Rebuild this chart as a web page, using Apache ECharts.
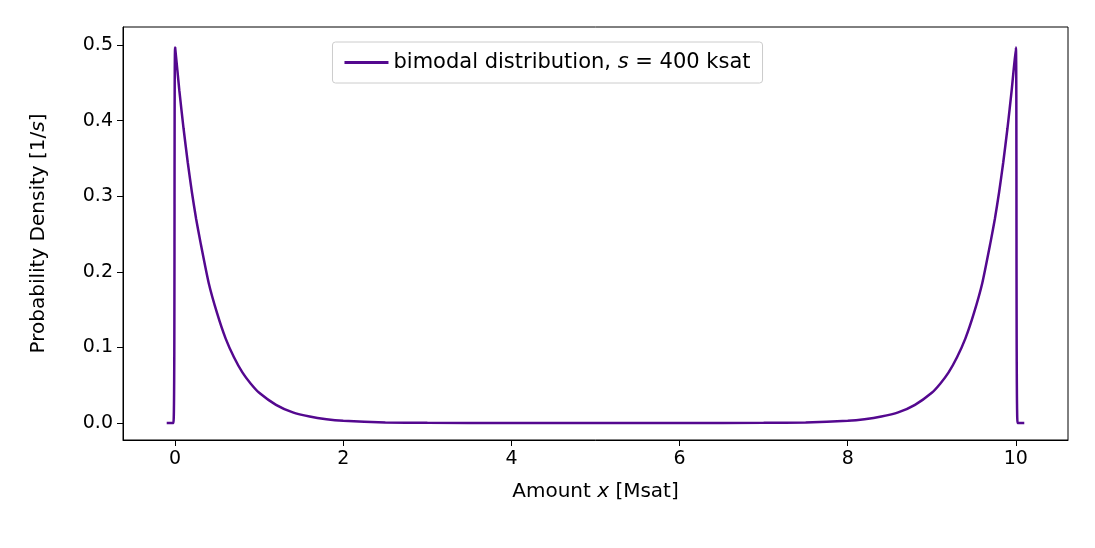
<!DOCTYPE html>
<html><head><meta charset="utf-8">
<script src="https://cdn.jsdelivr.net/npm/echarts@6/dist/echarts.min.js"></script>
<style>body{margin:0}#c{width:1095px;height:548px}</style></head>
<body><div id="c"></div>
<script>
// 数据
var xs = [-0.1,-0.02,0,0.05,0.1,0.15,0.2,0.25,0.3,0.4,0.5,0.6,0.7,0.8,0.9,1.0,1.2,1.4,1.6,1.8,2.0,2.5,3,4,5,6,7,7.5,8,8.2,8.4,8.6,8.8,9.0,9.1,9.2,9.3,9.4,9.5,9.6,9.7,9.75,9.8,9.85,9.9,9.95,10,10.02,10.1];
var ys = [0,0,0.497,0.44,0.39,0.345,0.305,0.27,0.24,0.185,0.145,0.112,0.087,0.067,0.052,0.040,0.024,0.014,0.0085,0.005,0.003,0.0008,0.0002,0,0,0,0.0002,0.0008,0.003,0.005,0.0085,0.014,0.024,0.040,0.052,0.067,0.087,0.112,0.145,0.185,0.24,0.27,0.305,0.345,0.39,0.44,0.497,0,0];
var xTicks = [0,2,4,6,8,10];
var yTicks = [0,0.1,0.2,0.3,0.4,0.5];

var pts = [];
for (var i = 0; i < xs.length; i++) pts.push([xs[i], ys[i]]);
var font = 'DejaVu Sans';
var chart = echarts.init(document.getElementById('c'));
chart.setOption({
	animation:false,
	textStyle:{fontFamily:font},
	grid:{left:123,right:27,top:27,bottom:108,show:true,borderColor:'#000',borderWidth:1},
	legend:{top:42,left:'center',itemWidth:44,itemHeight:3,itemGap:10,borderColor:'#ccc',borderWidth:1,borderRadius:3,padding:[10,12],
		icon:'rect',
		formatter:function(){return 'bimodal distribution, {i|s} = 400 ksat';},
		textStyle:{fontSize:21,color:'#000',fontFamily:font,rich:{i:{fontStyle:'italic',fontSize:21,fontFamily:font}}}},
	xAxis:{type:'value',min:-0.62,max:10.62,
		name:'Amount {i|x} [Msat]',nameLocation:'middle',nameGap:42,
		nameTextStyle:{fontSize:20,color:'#000',rich:{i:{fontStyle:'italic',fontSize:20}}},
		axisLine:{show:true,onZero:false,lineStyle:{color:'#000'}},splitLine:{show:false},
		axisTick:{show:true,inside:false,customValues:xTicks,length:6,lineStyle:{color:'#000'}},
		axisLabel:{customValues:xTicks,fontSize:19,color:'#000',margin:10}},
	yAxis:{type:'value',min:-0.0225,max:0.524,
		name:'Probability Density [1/{i|s}]',nameLocation:'middle',nameGap:74,
		nameTextStyle:{fontSize:20,color:'#000',rich:{i:{fontStyle:'italic',fontSize:20}}},
		axisLine:{show:true,onZero:false,lineStyle:{color:'#000'}},splitLine:{show:false},
		axisTick:{show:true,inside:false,customValues:yTicks,length:6,lineStyle:{color:'#000'}},
		axisLabel:{customValues:yTicks,fontSize:19,color:'#000',margin:10,formatter:function(v){return v.toFixed(1);}}},
	series:[{name:'bimodal',type:'line',data:pts,showSymbol:false,smooth:0.2,
		lineStyle:{color:'#54088f',width:2.5},itemStyle:{color:'#54088f'}}]
});
</script></body></html>
